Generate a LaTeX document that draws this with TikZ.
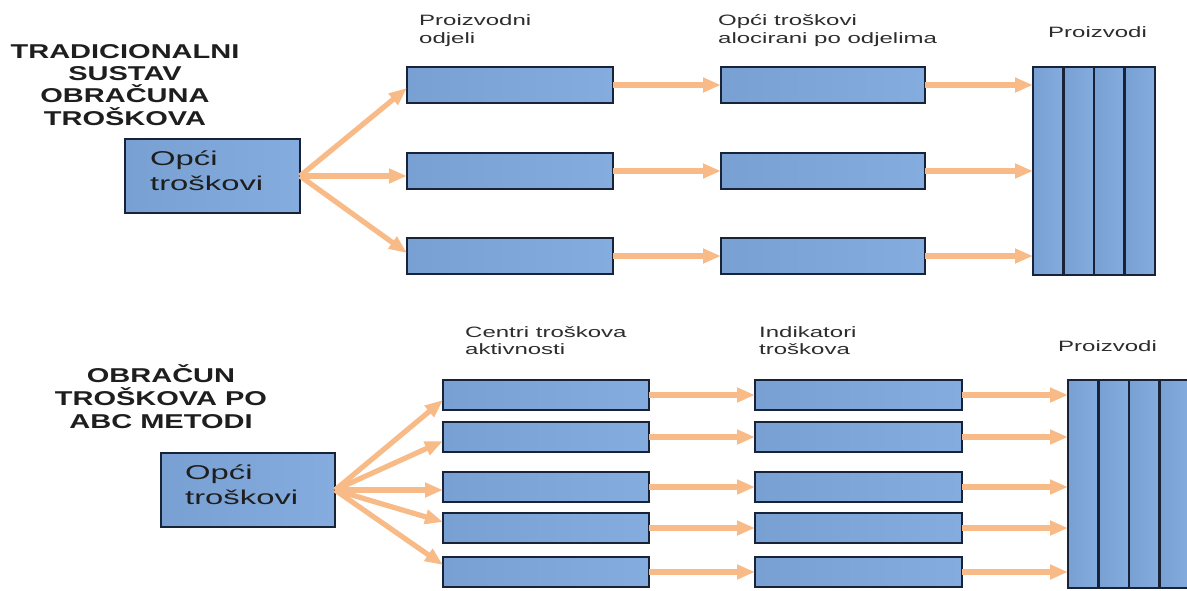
\documentclass[tikz,border=0pt]{standalone}
\usepackage{fontspec}
\usetikzlibrary{arrows.meta,calc}
\newfontfamily\lblfont[FakeStretch=1.6]{Liberation Sans}
\newfontfamily\opfont[FakeStretch=1.64]{Liberation Sans}
\newfontfamily\ttlfont[FakeStretch=1.45]{Liberation Sans}
\definecolor{boxline}{RGB}{25,35,55}
\definecolor{boxL}{RGB}{121,160,210}
\definecolor{boxR}{RGB}{133,172,222}
\definecolor{arrc}{RGB}{248,187,136}
\definecolor{txt}{RGB}{30,30,30}
\definecolor{lbltxt}{RGB}{45,45,45}
\tikzset{
  bx/.style={draw=boxline, line width=1.8pt, left color=boxL, right color=boxR,
             inner sep=0pt, outer sep=0pt, anchor=north west},
  rowbox/.style={bx, minimum width=206pt, minimum height=36pt},
  rowboxb/.style={bx, minimum width=206pt, minimum height=30pt},
  col/.style={bx, line width=2.2pt, minimum width=30.5pt, minimum height=208pt},
  arr/.style={draw=arrc, line width=5.2pt, -{Triangle[length=18pt,width=14pt]}},
  lbl/.style={anchor=base west, inner sep=0pt, text=lbltxt, font=\lblfont\fontsize{15}{17}\selectfont},
  optxt/.style={anchor=base west, inner sep=0pt, text=txt, font=\opfont\fontsize{20}{24}\selectfont},
  ttl/.style={anchor=base, inner sep=0pt, text=txt, font=\ttlfont\bfseries\fontsize{20}{22}\selectfont}
}
\begin{document}
\begin{tikzpicture}[x=1pt,y=-1pt]
\useasboundingbox (0,0) rectangle (1187,590);
\clip (0,0) rectangle (1187,590);
\fill[white] (0,0) rectangle (1187,590);

% ---------- top: traditional system ----------
\node[ttl] (t1) at (125,58) {TRADICIONALNI};
\node[ttl] (t2) at (125,80) {SUSTAV};
\node[ttl] (t3) at (125,102.5) {OBRAČUNA};
\node[ttl] (t4) at (125,125) {TROŠKOVA};

\node[bx, minimum width=175pt, minimum height=74pt] (o1) at (125,139) {};
\node[optxt] (o1a) at (150,165) {Opći};
\node[optxt] (o1b) at (150,190) {troškovi};

\node[lbl] (l1a) at (419,25) {Proizvodni};
\node[lbl] (l1b) at (419,43) {odjeli};
\node[lbl] (l2a) at (718,25) {Opći troškovi};
\node[lbl] (l2b) at (718,43) {alocirani po odjelima};
\node[lbl] (l3) at (1048,37) {Proizvodi};

\node[rowbox] (a1) at (407,67) {};
\node[rowbox] (a2) at (407,153) {};
\node[rowbox] (a3) at (407,238) {};
\node[rowbox, minimum width=204pt] (b1) at (721,67) {};
\node[rowbox, minimum width=204pt] (b2) at (721,153) {};
\node[rowbox, minimum width=204pt] (b3) at (721,238) {};

\node[col] (p1) at (1033,67) {};
\node[col] (p2) at (1063.5,67) {};
\node[col] (p3) at (1094,67) {};
\node[col] (p4) at (1124.5,67) {};

\draw[arr] (o1.east) -- ([yshift=-3pt]a1.west);
\draw[arr] (o1.east) -- (a2.west |- o1.east);
\draw[arr] (o1.east) -- ([yshift=3pt]a3.west);
\foreach \i in {1,2,3}{
  \draw[arr] (a\i.east) -- (b\i.west);
  \draw[arr] (b\i.east) -- (p1.west |- b\i.east);
}

% ---------- bottom: ABC method ----------
\node[ttl] (u1) at (161,382) {OBRAČUN};
\node[ttl] (u2) at (161,405) {TROŠKOVA PO};
\node[ttl] (u3) at (161,428) {ABC METODI};

\node[bx, minimum width=174pt, minimum height=74pt] (o2) at (161,453) {};
\node[optxt] (o2a) at (185,479) {Opći};
\node[optxt] (o2b) at (185,504) {troškovi};

\node[lbl] (m1a) at (465,337) {Centri troškova};
\node[lbl] (m1b) at (465,354) {aktivnosti};
\node[lbl] (m2a) at (759,337) {Indikatori};
\node[lbl] (m2b) at (759,354) {troškova};
\node[lbl] (m3) at (1058,351) {Proizvodi};

\node[rowboxb] (c1) at (443,380) {};
\node[rowboxb] (c2) at (443,422) {};
\node[rowboxb] (c3) at (443,472) {};
\node[rowboxb] (c4) at (443,513) {};
\node[rowboxb] (c5) at (443,557) {};
\node[rowboxb, minimum width=207pt] (d1) at (755,380) {};
\node[rowboxb, minimum width=207pt] (d2) at (755,422) {};
\node[rowboxb, minimum width=207pt] (d3) at (755,472) {};
\node[rowboxb, minimum width=207pt] (d4) at (755,513) {};
\node[rowboxb, minimum width=207pt] (d5) at (755,557) {};

\node[col] (q1) at (1068,380) {};
\node[col] (q2) at (1098.5,380) {};
\node[col] (q3) at (1129,380) {};
\node[col] (q4) at (1159.5,380) {};

\draw[arr] (o2.east) -- ([yshift=-5pt]c1.west);
\draw[arr] (o2.east) -- ([yshift=-4pt]c2.west);
\draw[arr] (o2.east) -- (c3.west |- o2.east);
\draw[arr] (o2.east) -- ([yshift=6pt]c4.west);
\draw[arr] (o2.east) -- ([yshift=7pt]c5.west);
\foreach \i in {1,...,5}{
  \draw[arr] (c\i.east) -- (d\i.west);
  \draw[arr] (d\i.east) -- (q1.west |- d\i.east);
}
\end{tikzpicture}
\end{document}
